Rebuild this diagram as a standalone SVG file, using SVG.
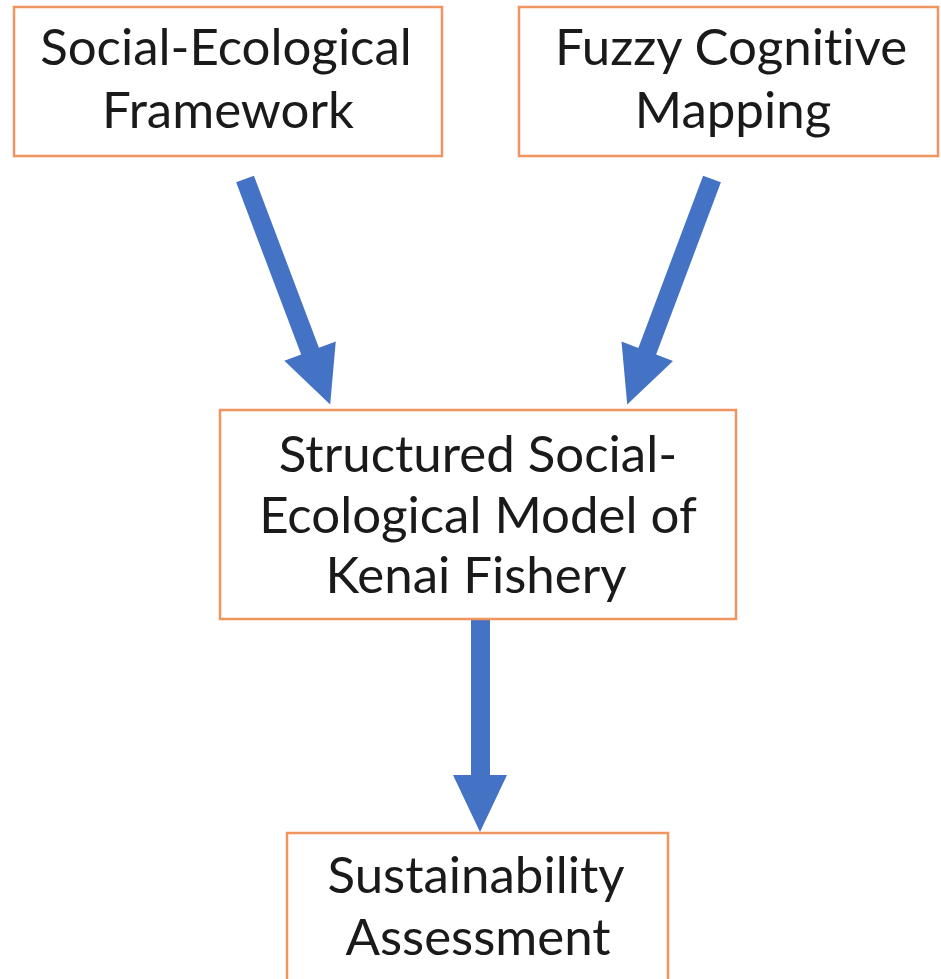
<svg xmlns="http://www.w3.org/2000/svg" width="941" height="979" viewBox="0 0 941 979">
<style>
.box{fill:#fff;stroke:#EE9560;stroke-width:2.5}
.lbl{font-family:Lato,"Open Sans","Liberation Sans",sans-serif;font-size:51px;fill:#1a1a1a;text-anchor:middle;font-variant-ligatures:none;font-feature-settings:"liga" 0}
.arrow{fill:#4472C4}
</style>
<rect width="941" height="979" fill="#fff"/>
<g id="connectors">
<polygon class="arrow" transform="translate(245,179) rotate(-20.7)" points="-9.5,0 9.5,0 9.5,184 27.5,184 0,241 -27.5,184 -9.5,184"/>
<polygon class="arrow" transform="translate(712,179) rotate(20.6)" points="-9.5,0 9.5,0 9.5,184 27.5,184 0,241 -27.5,184 -9.5,184"/>
<polygon class="arrow" points="471,620 490,620 490,775 507,775 480,832 453,775 471,775"/>
</g>
<g id="node-sef">
<rect class="box" x="14" y="7" width="428" height="149"/>
<text class="lbl" x="226" y="65">Social-Ecological</text>
<text class="lbl" x="228" y="128">Framework</text>
</g>
<g id="node-fcm">
<rect class="box" x="519" y="7" width="419" height="149"/>
<text class="lbl" x="731" y="65">Fuzzy Cognitive</text>
<text class="lbl" x="733" y="128">Mapping</text>
</g>
<g id="node-model">
<rect class="box" x="220" y="410" width="516" height="209"/>
<text class="lbl" x="478" y="472">Structured Social-</text>
<text class="lbl" x="478" y="533">Ecological Model of</text>
<text class="lbl" x="476" y="593">Kenai Fishery</text>
</g>
<g id="node-sa">
<rect class="box" x="287" y="833" width="381" height="160"/>
<text class="lbl" x="476" y="893">Sustainability</text>
<text class="lbl" x="478" y="955">Assessment</text>
</g>
</svg>
